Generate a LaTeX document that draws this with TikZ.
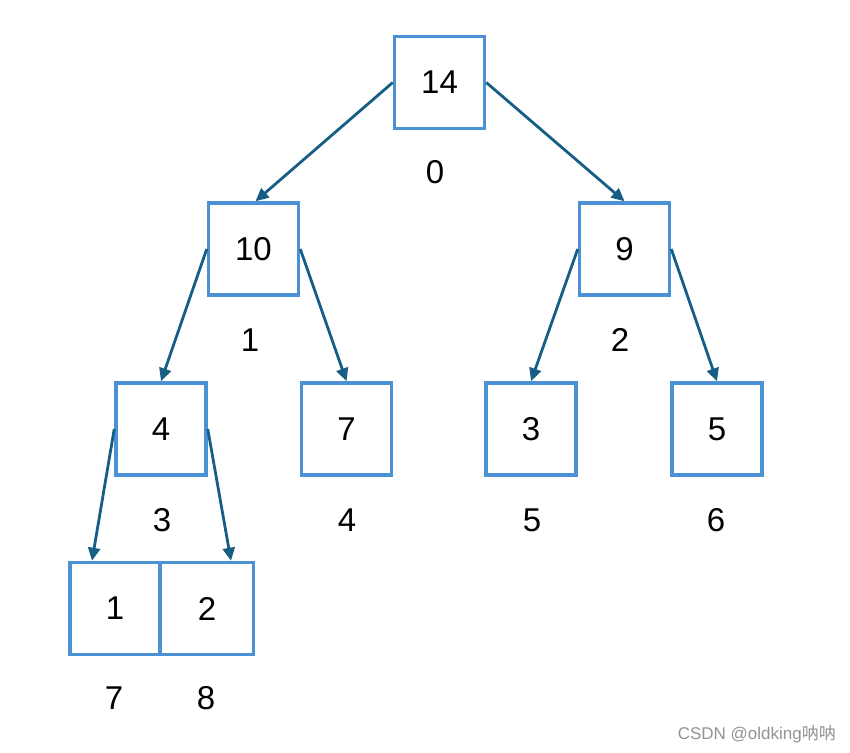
\documentclass[tikz,border=0pt]{standalone}
\usepackage{fontspec}
\setmainfont{Liberation Sans}
\newfontfamily\cjk{Noto Sans CJK SC}
\usetikzlibrary{arrows.meta}
\definecolor{boxblue}{RGB}{74,145,214}
\definecolor{arrowblue}{RGB}{23,94,132}
\begin{document}
\begin{tikzpicture}[x=1pt,y=-1pt,
  cell/.style={draw=boxblue,line width=3.5pt,minimum width=90pt,minimum height=92pt,inner sep=0pt,font=\fontsize{33}{33}\selectfont},
  idx/.style={font=\fontsize{33}{33}\selectfont,inner sep=0pt},
  link/.style={draw=arrowblue,line width=2.8pt,-{Triangle[length=13pt,width=12pt]}}]
\useasboundingbox[fill=white] (0,0) rectangle (850,752);
\node[cell] (n14) at (439.5,82.5) {14};
\node[cell] (n10) at (253.5,249) {10};
\node[cell] (n9) at (624.5,249) {9};
\node[cell] (n4) at (161,429) {4};
\node[cell] (n7) at (346.5,429) {7};
\node[cell] (n3) at (531,429) {3};
\node[cell] (n5) at (717,429) {5};
\node[cell] (n1) at (115,608.5) {1};
\node[cell,minimum width=93pt] (n2) at (207,608.5) {2};
\node[idx] (i0) at (435,172) {0};
\node[idx] (i1) at (250,340) {1};
\node[idx] (i2) at (620,340) {2};
\node[idx] (i3) at (162,520) {3};
\node[idx] (i4) at (347,520) {4};
\node[idx] (i5) at (532,520) {5};
\node[idx] (i6) at (716,520) {6};
\node[idx] (i7) at (114,698) {7};
\node[idx] (i8) at (206,698) {8};
\draw[link] (n14.west) -- ([xshift=2pt]n10.north);
\draw[link] (n14.east) -- (n9.north);
\draw[link] (n10.west) -- (n4.north);
\draw[link] (n10.east) -- (n7.north);
\draw[link] (n9.west) -- (n3.north);
\draw[link] (n9.east) -- (n5.north);
\draw[link] (n4.west) -- ([xshift=-23pt]n1.north);
\draw[link] (n4.east) -- ([xshift=24pt]n2.north);
\node[anchor=base east,text=gray!85,font=\fontsize{17}{17}\selectfont,inner sep=0pt] (wm) at (836,739) {CSDN @oldking{\cjk 呐呐}};
\end{tikzpicture}
\end{document}
